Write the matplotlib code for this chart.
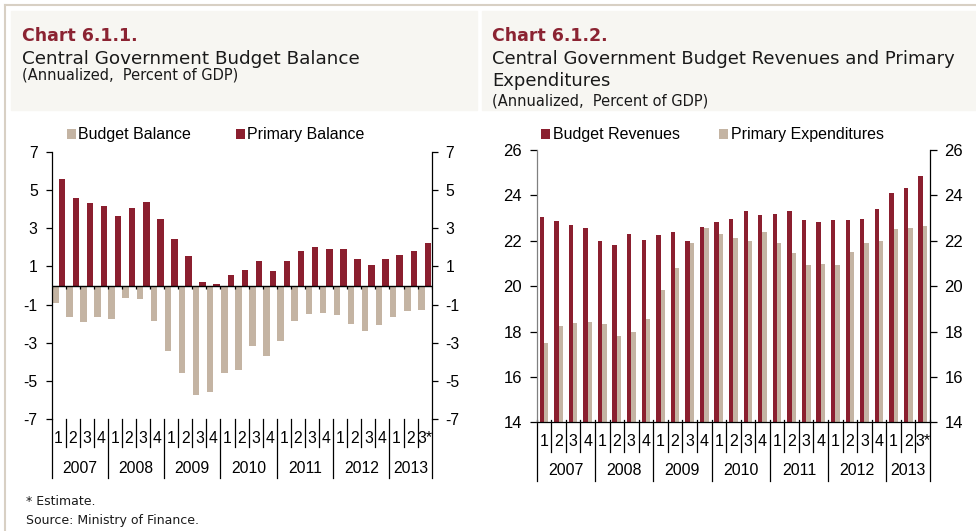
import matplotlib.pyplot as plt
from matplotlib.patches import Rectangle
from matplotlib.lines import Line2D
import numpy as np

# reference is 976x531 px
W, H = 976, 531

quarters = ['1', '2', '3', '4'] * 6 + ['1', '2', '3*']
years = ['2007', '2008', '2009', '2010', '2011', '2012', '2013']
quarters_per_year = [4, 4, 4, 4, 4, 4, 3]

# Chart 6.1.1
budget_balance = [-0.93, -1.66, -1.92, -1.66, -1.75, -0.67, -0.71, -1.87,
                  -3.44, -4.60, -5.75, -5.56, -4.60, -4.43, -3.18, -3.69,
                  -2.91, -1.87, -1.50, -1.42, -1.54, -2.02, -2.37, -2.06,
                  -1.64, -1.33, -1.28]
primary_balance = [5.57, 4.60, 4.34, 4.15, 3.66, 4.06, 4.37, 3.50,
                   2.43, 1.56, 0.17, 0.06, 0.53, 0.83, 1.30, 0.74,
                   1.26, 1.78, 2.01, 1.89, 1.92, 1.38, 1.07, 1.40,
                   1.61, 1.78, 2.23]

# Chart 6.1.2
revenues = [23.03, 22.86, 22.68, 22.56, 21.97, 21.82, 22.31, 22.04,
            22.24, 22.37, 22.01, 22.61, 22.84, 22.96, 23.33, 23.13,
            23.17, 23.29, 22.93, 22.84, 22.90, 22.90, 22.94, 23.42,
            24.10, 24.33, 24.86]
primary_exp = [17.50, 18.26, 18.37, 18.41, 18.34, 17.79, 17.96, 18.54,
               19.82, 20.82, 21.88, 22.56, 22.32, 22.10, 22.01, 22.37,
               21.91, 21.48, 20.92, 20.97, 20.95, 21.51, 21.88, 22.01,
               22.50, 22.55, 22.63]

RED = '#8B1F2F'
TAN = '#C4B4A3'
HEAD_BG = '#F7F6F2'
FRAME = '#D8D0C4'
TITLE_RED = '#8B2332'

plt.rcParams['axes.unicode_minus'] = False
NUM_FONT = 'Liberation Sans'
HEAD_FONT = 'DejaVu Sans'


def fx(px):
    return px / W


def fy(py):
    return 1 - py / H


def category_axis(ax, qy, yy, qlen, ylen, size, top=0.0):
    trans = ax.get_xaxis_transform()
    for i, q in enumerate(quarters):
        ax.text(i, qy, q, transform=trans, ha='center', va='center',
                fontsize=size, family=NUM_FONT, clip_on=False)
    start = 0
    year_bounds = [-0.5]
    for y, nq in zip(years, quarters_per_year):
        ax.text(start + (nq - 1) / 2, yy, y, transform=trans, ha='center',
                va='center', fontsize=size, family=NUM_FONT, clip_on=False)
        start += nq
        year_bounds.append(start - 0.5)
    for b in np.arange(len(quarters) + 1) - 0.5:
        length = ylen if b in year_bounds else qlen
        ax.plot([b, b], [top, -length], transform=trans, color='black',
                lw=0.9, clip_on=False)


fig = plt.figure(figsize=(W / 100, H / 100), dpi=100)

# frame lines and header boxes
fig.add_artist(Line2D([fx(5), 1], [fy(5), fy(5)], color=FRAME, lw=1.5))
fig.add_artist(Line2D([fx(5), fx(5)], [fy(5), 0], color=FRAME, lw=1.5))
fig.add_artist(Rectangle((fx(11), fy(110)), fx(466), 99 / H,
                         color=HEAD_BG, zorder=0))
fig.add_artist(Rectangle((fx(482), fy(110)), fx(494), 99 / H,
                         color=HEAD_BG, zorder=0))

# headers
fig.text(fx(22), fy(40.7), 'Chart 6.1.1.', color=TITLE_RED, fontsize=12.5,
         fontweight='bold', family=HEAD_FONT, va='baseline')
fig.text(fx(22), fy(64), 'Central Government Budget Balance', fontsize=13.2,
         family=HEAD_FONT, va='baseline', color='#1a1a1a')
fig.text(fx(22), fy(80), '(Annualized,  Percent of GDP)', fontsize=10.5,
         family=HEAD_FONT, va='baseline', color='#1a1a1a')

fig.text(fx(492), fy(40.7), 'Chart 6.1.2.', color=TITLE_RED, fontsize=12.5,
         fontweight='bold', family=HEAD_FONT, va='baseline')
fig.text(fx(492), fy(64), 'Central Government Budget Revenues and Primary',
         fontsize=13, family=HEAD_FONT, va='baseline', color='#1a1a1a')
fig.text(fx(492), fy(86), 'Expenditures', fontsize=13,
         family=HEAD_FONT, va='baseline', color='#1a1a1a')
fig.text(fx(492), fy(105), '(Annualized,  Percent of GDP)', fontsize=10.5,
         family=HEAD_FONT, va='baseline', color='#1a1a1a')

# footnotes
fig.text(fx(26), fy(505), '* Estimate.', fontsize=9, family=HEAD_FONT,
         va='baseline', color='#1a1a1a')
fig.text(fx(26), fy(524), 'Source: Ministry of Finance.', fontsize=9,
         family=HEAD_FONT, va='baseline', color='#1a1a1a')

x = np.arange(len(quarters))

# ---- Chart 6.1.1 ----
ax1 = fig.add_axes([fx(51.5), fy(419.3), fx(380.2), 267.6 / H])
ax1.bar(x - 0.23, budget_balance, 0.46, color=TAN, label='Budget Balance')
ax1.bar(x + 0.23, primary_balance, 0.46, color=RED, label='Primary Balance')
ax1.axhline(0, color='black', lw=1.0)
ax1.vlines(np.arange(len(quarters) + 1) - 0.5, -0.2, 0, color='black', lw=0.9)
ax1.set_xlim(-0.5, len(quarters) - 0.5)
ax1.set_ylim(-7, 7)
ticks1 = [7, 5, 3, 1, -1, -3, -5, -7]
ax1.set_yticks(ticks1)
ax1.set_yticklabels([str(t) for t in ticks1])
ax1.set_xticks([])
ax1.tick_params(axis='y', right=True, labelright=True, direction='out',
                length=4, width=0.9, labelsize=11.3, pad=6)
for lab in ax1.get_yticklabels():
    lab.set_family(NUM_FONT)
for s in ['top', 'bottom']:
    ax1.spines[s].set_visible(False)
for s in ['left', 'right']:
    ax1.spines[s].set_linewidth(0.9)
category_axis(ax1, -0.0736, -0.182, 0.103, 0.219, 11.3)
ax1.legend(ncol=2, frameon=False, loc='center left',
           bbox_to_anchor=(fx(67), fy(135)), bbox_transform=fig.transFigure,
           borderpad=0, borderaxespad=0, handlelength=0.55, handleheight=0.55,
           handletextpad=0.15, columnspacing=2.8,
           prop={'family': NUM_FONT, 'size': 11.5})

# ---- Chart 6.1.2 ----
ax2 = fig.add_axes([fx(536.7), fy(422.3), fx(393.3), 272.3 / H])
ax2.bar(x - 0.15, revenues, 0.3, color=RED, label='Budget Revenues')
ax2.bar(x + 0.15, primary_exp, 0.3, color=TAN, label='Primary Expenditures')
ax2.set_xlim(-0.5, len(quarters) - 0.5)
ax2.set_ylim(14, 26)
ax2.set_yticks(range(14, 27, 2))
ax2.set_xticks([])
ax2.tick_params(axis='y', right=True, labelright=True, direction='out',
                length=5, width=0.9, labelsize=12, pad=5.5)
for lab in ax2.get_yticklabels():
    lab.set_family(NUM_FONT)
ax2.spines['top'].set_visible(False)
ax2.spines['left'].set_color('#808080')
for s in ['left', 'right', 'bottom']:
    ax2.spines[s].set_linewidth(0.9)
category_axis(ax2, -0.069, -0.178, 0.108, 0.216, 11.5, top=0.01)
ax2.legend(ncol=2, frameon=False, loc='center left',
           bbox_to_anchor=(fx(541), fy(135)), bbox_transform=fig.transFigure,
           borderpad=0, borderaxespad=0, handlelength=0.55, handleheight=0.55,
           handletextpad=0.2, columnspacing=2.45,
           prop={'family': NUM_FONT, 'size': 11.5})

fig.savefig('out.png', dpi=100)
